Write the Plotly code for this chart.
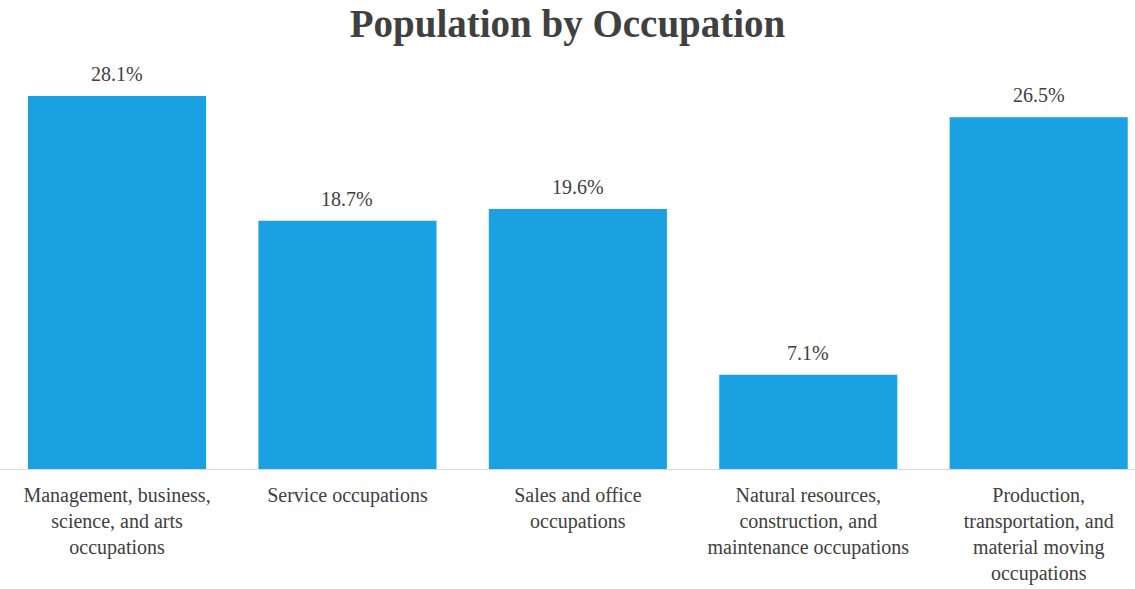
import plotly.graph_objects as go

categories = [
    "Management, business,<br>science, and arts<br>occupations",
    "Service occupations",
    "Sales and office<br>occupations",
    "Natural resources,<br>construction, and<br>maintenance occupations",
    "Production,<br>transportation, and<br>material moving<br>occupations",
]
shares = [28.1, 18.7, 19.6, 7.1, 26.5]
share_labels = [f"{v:.1f}%" for v in shares]

bar_color = "#1AA1E2"
text_color = "#404040"
serif = "Liberation Serif, Times New Roman, serif"

positions = list(range(len(categories)))

fig = go.Figure(
    go.Bar(
        x=positions,
        y=shares,
        marker=dict(color=bar_color, line=dict(width=0)),
        width=0.773,
    )
)

# percentage labels sitting above each bar
for xi, v, lab in zip(positions, shares, share_labels):
    fig.add_annotation(
        x=xi, y=v, text=lab, showarrow=False,
        yanchor="bottom", yshift=9,
        font=dict(family=serif, size=20, color=text_color),
    )

fig.update_layout(
    width=1135,
    height=589,
    paper_bgcolor="white",
    plot_bgcolor="white",
    margin=dict(l=0, r=0, t=60, b=120),
    showlegend=False,
    title=dict(
        text="<b>Population by Occupation</b>",
        x=0.5,
        xanchor="center",
        y=0.96,
        yanchor="middle",
        font=dict(family=serif, size=39, color=text_color),
    ),
    xaxis=dict(
        tickmode="array",
        tickvals=positions,
        ticktext=categories,
        range=[-0.508, 4.418],
        showgrid=False,
        zeroline=False,
        showline=True,
        linecolor="#d9d9d9",
        linewidth=1,
        ticks="outside",
        ticklen=8,
        tickcolor="rgba(0,0,0,0)",
        tickfont=dict(family=serif, size=20, color=text_color),
    ),
    yaxis=dict(
        range=[0, 30.82],
        visible=False,
        showgrid=False,
        zeroline=False,
    ),
)

fig.write_html("out.html")
